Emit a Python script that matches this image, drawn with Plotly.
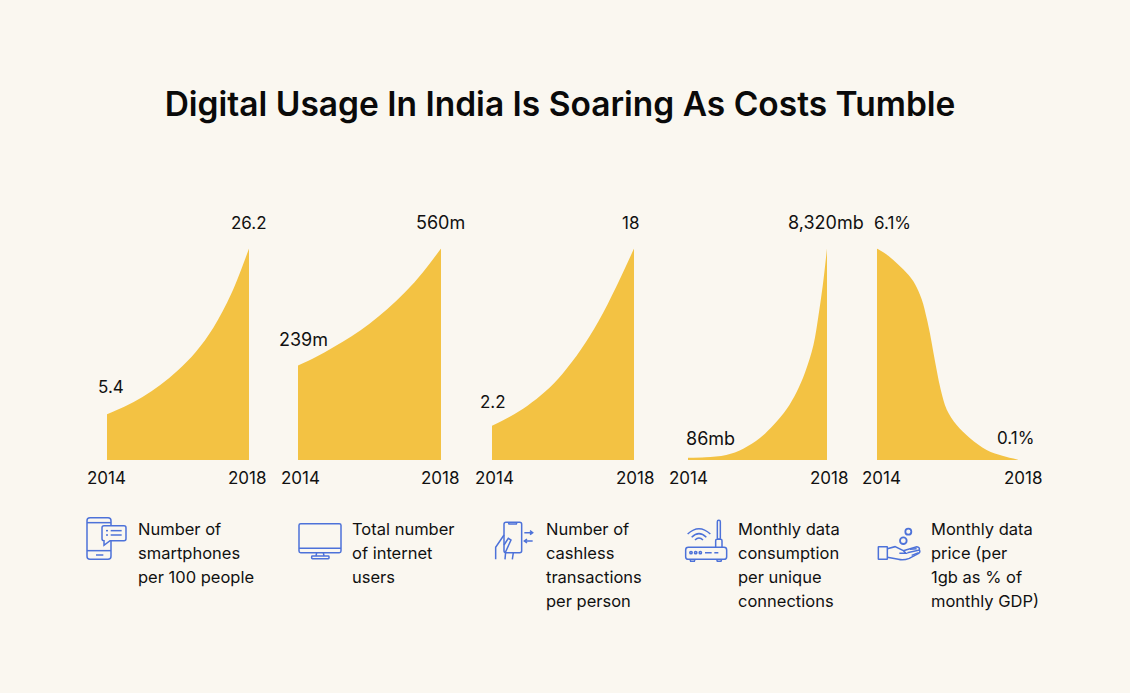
import plotly.graph_objects as go

W, H = 1130, 693
BG = "#FAF7F0"
GOLD = "#F3C243"
INK = "#111111"
BLUE = "#4D72D9"
FONT = "Inter"

# ---------- data ----------
smartphones_years = [2014, 2014.5, 2015, 2015.5, 2016, 2016.5, 2017, 2017.5, 2018]
smartphones = [5.66, 6.62, 7.79, 9.29, 11.12, 13.37, 16.41, 20.58, 26.2]

internet_years = [2014, 2014.5, 2015, 2015.5, 2016, 2016.5, 2017, 2017.5, 2018]
internet = [250, 272.5, 299, 327.5, 361, 400, 444.6, 498, 560]

cashless_years = [2014, 2014.5, 2015, 2015.5, 2016, 2016.5, 2017, 2017.5, 2018]
cashless = [2.91, 3.68, 4.62, 5.82, 7.39, 9.38, 11.81, 14.75, 18]

data_use_years = [2014, 2014.5, 2015.1, 2015.59, 2016.07, 2016.46, 2016.84, 2017.13,
                  2017.37, 2017.61, 2017.75, 2017.88, 2018]
data_use = [86, 105, 197, 446, 865, 1377, 2006, 2687, 3450, 4524, 5637, 6884, 8320]

price_years = [2014, 2014.32, 2014.6, 2014.89, 2015.08, 2015.27, 2015.41, 2015.5, 2015.6, 2015.7,
               2015.81, 2015.98, 2016.26, 2016.64, 2017.11, 2017.58, 2018]
price = [6.1, 5.89, 5.64, 5.34, 5.07, 4.63, 4.09, 3.66, 3.1, 2.55, 2.02, 1.45, 1.01, 0.63, 0.29, 0.115, 0.01]

tick_years = ["2014", "2018"]
start_labels = ["5.4", "239m", "2.2", "86mb", "6.1%"]
end_labels = ["26.2", "560m", "18", "8,320mb", "0.1%"]
captions = [
    ["Number of", "smartphones", "per 100 people"],
    ["Total number", "of internet", "users"],
    ["Number of", "cashless", "transactions", "per person"],
    ["Monthly data", "consumption", "per unique", "connections"],
    ["Monthly data", "price (per", "1gb as % of", "monthly GDP)"],
]
title = "Digital Usage In India Is Soaring As Costs Tumble"

# ---------- layout (pixels) ----------
panels = [(107, 249), (298, 441), (492, 634), (688, 827), (877, 1018)]
TOP, BASE = 248.5, 460
series = [
    (smartphones_years, smartphones),
    (internet_years, internet),
    (cashless_years, cashless),
    (data_use_years, data_use),
    (price_years, price),
]
start_pos = [(111, 387), (303, 339), (493, 402), (710, 438), (892, 223)]
end_pos = [(249, 223), (441, 223), (630, 223), (826, 223), (1015, 438)]
tick_pos = [(106, 247), (300, 441), (494, 635), (688, 829), (882, 1023)]
caption_x = [136, 350, 544, 736, 929]
LINE_Y = [529, 553, 577, 601]


def px(x):
    return x / W


def py(y):
    return 1 - y / H


fig = go.Figure()
layout_axes = {}
annotations = []


def text(s, x, y, size=17, anchor="center"):
    annotations.append(dict(
        text=s, x=px(x), y=py(y), xref="paper", yref="paper", showarrow=False,
        xanchor=anchor, yanchor="middle", font=dict(family=FONT, size=size, color=INK),
    ))


def value_size(s):
    return 18 if "m" in s else 17


for i, ((x0, x1), (xs, ys)) in enumerate(zip(panels, series)):
    n = "" if i == 0 else str(i + 1)
    fig.add_trace(go.Scatter(
        x=xs, y=ys, xaxis="x" + n, yaxis="y" + n, mode="lines",
        line=dict(color=GOLD, width=0, shape="spline", smoothing=1.0),
        fill="tozeroy", fillcolor=GOLD, showlegend=False, hoverinfo="x+y",
    ))
    layout_axes["xaxis" + n] = dict(domain=[px(x0), px(x1)], range=[2014, 2018], visible=False,
                                    anchor="y" + n, fixedrange=True)
    layout_axes["yaxis" + n] = dict(domain=[py(BASE), py(TOP)], range=[0, max(ys)], visible=False,
                                    anchor="x" + n, fixedrange=True)
    text(start_labels[i], *start_pos[i], size=value_size(start_labels[i]))
    text(end_labels[i], *end_pos[i], size=value_size(end_labels[i]))
    for lab, tx in zip(tick_years, tick_pos[i]):
        text(lab, tx, 478)
    for line, ly in zip(captions[i], LINE_Y):
        text(line, caption_x[i], ly, size=16.5, anchor="left")

# ---------- icons: outlines given in crop coordinates (3x) ----------
shapes = []


def path(ox, oy, d, fill=None, width=1.5):
    out, is_x = [], True
    for tok in d.split():
        if tok.isalpha():
            out.append(tok)
            is_x = True
        else:
            v = float(tok) / 3
            out.append(f"{px(ox + v):.5f}" if is_x else f"{py(oy + v):.5f}")
            is_x = not is_x
    s = dict(type="path", path=" ".join(out), xref="paper", yref="paper",
             line=dict(color=BLUE, width=width))
    if fill:
        s["fillcolor"] = fill
    shapes.append(s)


def circle(ox, oy, cx, cy, r, width=1.5):
    shapes.append(dict(type="circle", xref="paper", yref="paper",
                       x0=px(ox + (cx - r) / 3), x1=px(ox + (cx + r) / 3),
                       y0=py(oy + (cy - r) / 3), y1=py(oy + (cy + r) / 3),
                       line=dict(color=BLUE, width=width)))


def rrect(ox, oy, x0, y0, x1, y1, r=6, fill=None, width=1.5):
    path(ox, oy, f"M {x0+r} {y0} L {x1-r} {y0} Q {x1} {y0} {x1} {y0+r} L {x1} {y1-r} Q {x1} {y1} {x1-r} {y1} "
                 f"L {x0+r} {y1} Q {x0} {y1} {x0} {y1-r} L {x0} {y0+r} Q {x0} {y0} {x0+r} {y0} Z", fill, width)


# phone with speech bubble
o = (80, 510)
rrect(*o, 21, 23, 93, 148, 9)
path(*o, "M 21 38 L 93 38")
path(*o, "M 21 122 L 93 122")
path(*o, "M 48 135 L 70 135")
path(*o, "M 72 47 L 132 47 Q 138 47 138 53 L 138 86 Q 138 92 132 92 L 90 92 L 72 106 L 72 92 Q 66 92 66 86 L 66 53 Q 66 47 72 47 Z", BG)
path(*o, "M 92 62 L 125 62")
path(*o, "M 92 75 L 125 75")
path(*o, "M 78 62 L 84 62")
path(*o, "M 78 75 L 84 75")

# monitor
o = (290, 510)
rrect(*o, 27, 41, 153, 128, 5)
path(*o, "M 27 115 L 153 115")
path(*o, "M 80 128 L 78 138 M 100 128 L 102 138")
rrect(*o, 65, 138, 117, 146, 2)

# hand holding phone
o = (485, 510)
rrect(*o, 57, 37, 110, 128, 6)
path(*o, "M 70 37 L 72 42 L 94 42 L 96 37")
path(*o, "M 32 148 L 32 112 L 57 75 M 57 105 L 70 85 L 78 90 L 62 125 L 60 148 M 85 128 L 82 148")
path(*o, "M 118 68 L 143 68 M 135 62 L 143 68 L 135 74")
path(*o, "M 143 93 L 118 93 M 126 87 L 118 93 L 126 99")

# router
o = (675, 510)
rrect(*o, 32, 112, 155, 148, 8)
path(*o, "M 45 148 L 47 154 L 58 154 L 60 148 M 125 148 L 127 154 L 138 154 L 140 148")
rrect(*o, 127, 31, 136, 88, 4)
path(*o, "M 122 112 L 122 92 Q 122 88 126 88 L 137 88 Q 141 88 141 92 L 141 112")
path(*o, "M 60 90 Q 72 78 84 90")
path(*o, "M 50 82 Q 72 60 94 82")
path(*o, "M 38 72 Q 72 40 106 72")
for cx in (48, 62, 76):
    circle(*o, cx, 128, 3.5)
path(*o, "M 90 128 L 110 128 M 118 128 L 130 128")

# hand with coins
o = (870, 510)
circle(*o, 115, 65, 9, 1.8)
circle(*o, 100, 92, 10, 1.8)
rrect(*o, 25, 110, 52, 148, 1)
path(*o, "M 52 116 L 75 110 L 100 122 L 108 130 L 88 130 M 100 122 L 140 110 Q 150 112 148 120 "
         "M 112 128 L 148 120 Q 152 126 146 130 L 118 145 Q 100 152 85 148 L 52 142")
path(*o, "M 120 118 L 140 116 M 125 136 L 146 128")

fig.update_layout(
    width=W, height=H, autosize=False,
    margin=dict(l=0, r=0, t=0, b=0, pad=0),
    paper_bgcolor=BG, plot_bgcolor="rgba(0,0,0,0)",
    font=dict(family=FONT, color=INK),
    title=dict(text=title, x=px(560), y=py(104), xref="paper", yref="paper", xanchor="center", yanchor="middle",
               font=dict(family=FONT, size=33.5, weight=600, color="#0A0A0A")),
    annotations=annotations, shapes=shapes, showlegend=False, **layout_axes,
)

fig.write_html("out.html", config=dict(displayModeBar=False),
               post_script="document.body.style.margin='0';document.body.style.background='%s';" % BG)
